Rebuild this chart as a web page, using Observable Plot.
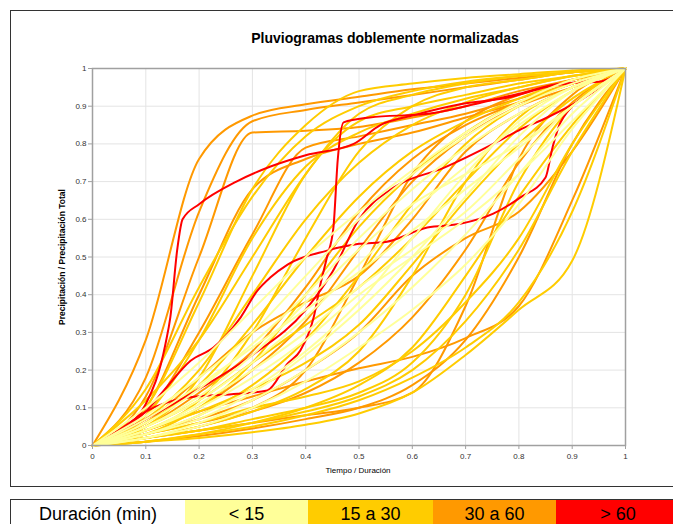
<!DOCTYPE html>
<html>
<head>
<meta charset="utf-8">
<script src="https://cdn.jsdelivr.net/npm/d3@7"></script>
<script src="https://cdn.jsdelivr.net/npm/@observablehq/plot@0.6"></script>
<style>
  body { margin: 0; background: #fff; font-family: "Liberation Sans", Arial, sans-serif; }
  #frame { position: absolute; left: 10px; top: 10px; width: 680px; height: 477px; border: 1.5px solid #333; box-sizing: border-box; }
  #title { position: absolute; left: 0; top: 29px; width: 770px; text-align: center; font-size: 14px; font-weight: bold; line-height: 18px; color: #000; }
  #chart { position: absolute; left: 0; top: 0; }
  #xlab { position: absolute; left: 258px; top: 465px; width: 200px; text-align: center; font-size: 8px; line-height: 12px; color: #000; }
  #ylab { position: absolute; left: -38px; top: 251px; width: 200px; text-align: center; font-size: 8.5px; font-weight: bold; line-height: 12px; transform: rotate(-90deg); color: #000; }
  #legend { position: absolute; left: 10px; top: 499px; border-collapse: collapse; border-top: 1.5px solid #333; border-left: 1.5px solid #333; }
  #legend td { height: 28px; padding: 0; font-size: 18px; text-align: center; vertical-align: middle; color: #000; }
</style>
</head>
<body>
<div id="frame"></div>
<div id="title">Pluviogramas doblemente normalizadas</div>
<div id="chart"></div>
<div id="xlab">Tiempo / Duración</div>
<div id="ylab">Precipitación / Precipitación Total</div>
<table id="legend"><tr id="legrow"></tr></table>
<script>
// ---- data ----
const tiempo = [0, 0.1, 0.2, 0.3, 0.4, 0.5, 0.6, 0.7, 0.8, 0.9, 1];
const tickX = [0, 0.1, 0.2, 0.3, 0.4, 0.5, 0.6, 0.7, 0.8, 0.9, 1];
const tickY = [0, 0.1, 0.2, 0.3, 0.4, 0.5, 0.6, 0.7, 0.8, 0.9, 1];

const categorias = ["< 15", "15 a 30", "30 a 60", "> 60"];
const colores = ["#ffff99", "#ffcc00", "#ff9900", "#ff0000"];
const legendTitle = "Duración (min)";

// 30 a 60 min (orange)
const de30a60 = [
  [0, .28, .76, .875, .905, .925, .945, .96, .975, .99, 1],
  [0, .18, .62, .86, .89, .91, .93, .95, .97, .99, 1],
  [0, .13, .50, .83, .835, .845, .87, .90, .94, .97, 1],
  [0, .08, .30, .56, .79, .82, .85, .88, .92, .96, 1],
  [0, .10, .40, .68, .76, .80, .83, .87, .91, .96, 1],
  [0, .05, .14, .25, .42, .62, .76, .85, .91, .96, 1],
  [0, .06, .18, .30, .38, .45, .60, .78, .88, .95, 1],
  [0, .04, .10, .20, .33, .52, .70, .82, .90, .95, 1],
  [0, .04, .09, .13, .17, .205, .235, .285, .37, .65, 1],
  [0, .02, .04, .06, .08, .10, .14, .37, .76, .93, 1],
  [0, .03, .07, .12, .20, .30, .45, .55, .62, .78, 1],
  [0, .02, .05, .09, .14, .22, .34, .52, .75, .91, 1],
  [0, .03, .06, .10, .20, .45, .72, .86, .93, .97, 1],
  [0, .01, .025, .045, .07, .10, .16, .28, .50, .80, 1]
];

// 15 a 30 min (gold)
const de15a30 = [
  [0, .10, .38, .68, .85, .94, .96, .975, .985, .995, 1],
  [0, .08, .28, .55, .74, .83, .88, .92, .95, .98, 1],
  [0, .05, .18, .45, .72, .86, .90, .93, .96, .98, 1],
  [0, .04, .12, .30, .55, .78, .90, .95, .97, .99, 1],
  [0, .06, .16, .32, .50, .66, .78, .86, .92, .97, 1],
  [0, .03, .08, .16, .28, .45, .64, .80, .90, .96, 1],
  [0, .05, .12, .22, .32, .42, .55, .70, .84, .94, 1],
  [0, .02, .05, .09, .15, .25, .45, .70, .87, .95, 1],
  [0, .02, .04, .07, .10, .14, .22, .40, .70, .90, 1],
  [0, .01, .03, .05, .08, .12, .18, .26, .38, .62, 1],
  [0, .01, .02, .035, .055, .085, .14, .24, .36, .49, 1],
  [0, .07, .20, .40, .60, .75, .85, .91, .95, .98, 1],
  [0, .03, .10, .22, .40, .58, .72, .83, .91, .96, 1],
  [0, .04, .09, .15, .22, .32, .48, .65, .80, .92, 1],
  [0, .12, .28, .50, .72, .88, .93, .96, .98, .99, 1],
  [0, .15, .42, .66, .82, .90, .94, .965, .98, .99, 1],
  [0, .01, .03, .06, .10, .16, .26, .45, .66, .85, 1],
  [0, .02, .04, .06, .09, .13, .20, .33, .52, .78, 1],
  [0, .03, .06, .10, .13, .17, .25, .38, .55, .80, 1]
];

// < 15 min (light yellow)
const menos15 = [
  [0, .05, .12, .22, .34, .48, .62, .74, .85, .94, 1],
  [0, .03, .08, .15, .25, .38, .55, .72, .86, .95, 1],
  [0, .06, .15, .27, .40, .55, .68, .79, .88, .95, 1],
  [0, .04, .10, .18, .28, .40, .50, .60, .72, .86, 1],
  [0, .08, .18, .30, .45, .60, .72, .82, .90, .96, 1],
  [0, .02, .06, .12, .20, .30, .42, .56, .72, .88, 1],
  [0, .05, .13, .24, .38, .52, .64, .72, .80, .90, 1],
  [0, .03, .07, .14, .24, .36, .50, .66, .82, .94, 1],
  [0, .10, .22, .36, .50, .62, .73, .83, .91, .97, 1],
  [0, .04, .11, .20, .30, .42, .52, .62, .76, .90, 1],
  [0, .02, .05, .10, .17, .26, .36, .48, .64, .84, 1],
  [0, .07, .16, .26, .36, .46, .57, .68, .79, .90, 1]
];

// > 60 min (red): [tiempo, precipitación] pairs
const mas60 = [
  [[0,0],[.05,.04],[.1,.11],[.137,.27],[.146,.34],[.159,.52],[.169,.60],[.2,.64],[.27,.70],[.334,.74],[.4,.77],[.49,.80],[.54,.85],[.6,.875],[.69,.905],[.78,.923],[.85,.95],[.93,.97],[1,1]],
  [[0,0],[.05,.04],[.1,.09],[.184,.128],[.272,.137],[.328,.146],[.366,.217],[.39,.252],[.415,.34],[.428,.43],[.44,.5],[.452,.578],[.46,.756],[.471,.857],[.52,.87],[.63,.88],[.73,.91],[.8,.933],[.88,.96],[.95,.965],[1,1]],
  [[0,0],[.05,.04],[.1,.09],[.134,.146],[.184,.225],[.227,.26],[.278,.34],[.309,.41],[.334,.446],[.366,.48],[.44,.517],[.5,.535],[.55,.54],[.628,.578],[.69,.588],[.752,.615],[.803,.658],[.85,.711],[.863,.79],[.878,.857],[.95,.95],[1,1]],
  [[0,0],[.1,.07],[.2,.15],[.3,.24],[.4,.36],[.45,.46],[.5,.6],[.565,.684],[.66,.737],[.752,.80],[.8,.836],[.853,.87],[.92,.92],[1,1]]
];

// ---- build table ----
const puntos = [];
function agregar(cat, curvas) {
  curvas.forEach((ys, i) => ys.forEach((p, j) => puntos.push({id: cat + "#" + i, cat, t: tiempo[j], p})));
}
agregar("30 a 60", de30a60);
agregar("15 a 30", de15a30);
mas60.forEach((c, i) => c.forEach(([t, p]) => puntos.push({id: "> 60#" + i, cat: "> 60", t, p})));
agregar("< 15", menos15);

const chart = Plot.plot({
  width: 673,
  height: 486,
  marginLeft: 92,
  marginRight: 48,
  marginTop: 68,
  marginBottom: 41,
  style: {background: "transparent", fontFamily: "Liberation Sans, Arial, sans-serif", color: "#333"},
  x: {domain: [0, 1], label: null},
  y: {domain: [0, 1], label: null},
  color: {domain: categorias, range: colores},
  marks: [
    Plot.gridX(tickX, {stroke: "#e4e4e4", strokeOpacity: 1}),
    Plot.gridY(tickY, {stroke: "#e4e4e4", strokeOpacity: 1}),
    Plot.line(puntos, {x: "t", y: "p", z: "id", stroke: "cat", strokeWidth: 2, curve: "monotone-x"}),
    Plot.frame({stroke: "#a0a0a0", strokeWidth: 1.5}),
    Plot.axisX(tickX, {tickSize: 4, tickPadding: 4, fontSize: 8, tickFormat: d => String(d), stroke: "#a0a0a0", fill: "#333", label: null}),
    Plot.axisY(tickY, {tickSize: 4, tickPadding: 2, fontSize: 8, tickFormat: d => String(d), stroke: "#a0a0a0", fill: "#333", label: null})
  ]
});
document.getElementById("chart").appendChild(chart);

// ---- legend ----
const row = document.getElementById("legrow");
const widths = [174, 123, 125, 123, 124];
const cells = [legendTitle, ...categorias];
cells.forEach((txt, i) => {
  const td = document.createElement("td");
  td.textContent = txt;
  td.style.width = widths[i] + "px";
  td.style.minWidth = widths[i] + "px";
  td.style.background = i === 0 ? "#fff" : colores[i - 1];
  row.appendChild(td);
});
</script>
</body>
</html>
